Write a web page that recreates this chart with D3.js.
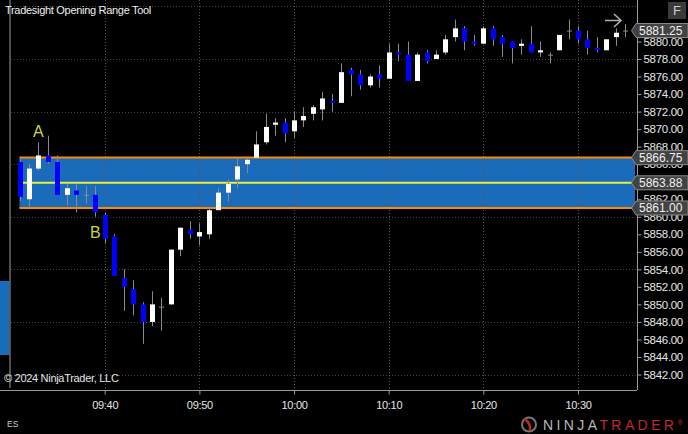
<!DOCTYPE html>
<html><head><meta charset="utf-8">
<script src="https://cdn.jsdelivr.net/npm/d3@7/dist/d3.min.js"></script>
<style>
html,body{margin:0;padding:0;background:#000;overflow:hidden;}
svg{display:block;}
text{font-family:"Liberation Sans",Arial,sans-serif;}
</style></head>
<body><svg id="c" width="688" height="434"></svg>
<script>
const times = ["09:31","09:32","09:33","09:34","09:35","09:36","09:37","09:38","09:39","09:40",
"09:41","09:42","09:43","09:44","09:45","09:46","09:47","09:48","09:49","09:50",
"09:51","09:52","09:53","09:54","09:55","09:56","09:57","09:58","09:59","10:00",
"10:01","10:02","10:03","10:04","10:05","10:06","10:07","10:08","10:09","10:10",
"10:11","10:12","10:13","10:14","10:15","10:16","10:17","10:18","10:19","10:20",
"10:21","10:22","10:23","10:24","10:25","10:26","10:27","10:28","10:29","10:30",
"10:31","10:32","10:33","10:34","10:35"];
const opens = [5866.25,5862.0,5865.5,5867.0,5866.25,5862.5,5863.0,5862.5,5862.5,5860.25,
5857.75,5853.0,5851.75,5850.0,5848.0,5849.75,5850.0,5856.25,5858.5,5857.75,
5858.0,5860.75,5862.75,5864.25,5866.0,5866.75,5868.5,5870.5,5870.75,5869.75,
5871.0,5871.75,5872.25,5873.25,5873.0,5876.75,5876.25,5875.0,5876.25,5875.75,
5878.75,5878.5,5875.5,5878.75,5878.0,5878.75,5880.5,5881.5,5880.0,5879.75,
5881.5,5880.5,5880.0,5879.5,5879.75,5878.75,5878.5,5879.0,5881.25,5881.25,
5880.25,5879.25,5879.0,5880.5,5881.25];
const highs = [5866.75,5866.0,5868.5,5869.25,5867.0,5863.75,5863.75,5863.5,5863.5,5860.5,
5858.0,5854.0,5852.75,5850.25,5851.5,5850.75,5856.25,5858.75,5859.5,5859.25,
5861.0,5863.25,5864.25,5866.75,5866.75,5869.75,5871.75,5871.25,5871.25,5872.0,
5872.5,5872.75,5874.25,5874.0,5877.5,5877.0,5876.75,5876.25,5877.25,5879.75,
5879.75,5880.0,5878.75,5879.0,5879.0,5880.75,5882.5,5881.75,5880.75,5881.75,
5881.75,5880.75,5880.0,5880.25,5881.75,5880.0,5878.75,5880.75,5882.5,5881.75,
5881.25,5880.5,5880.25,5881.5,5882.0];
const lows = [5861.75,5861.0,5865.25,5866.0,5862.5,5861.25,5860.5,5861.5,5860.0,5857.0,
5853.25,5849.25,5848.75,5845.5,5847.5,5847.0,5850.0,5855.5,5857.5,5856.75,
5857.5,5860.75,5861.75,5863.25,5865.0,5866.75,5868.25,5869.25,5868.5,5869.0,
5870.25,5871.0,5871.0,5872.0,5873.0,5873.75,5874.5,5874.75,5874.75,5875.75,
5877.75,5875.5,5875.5,5877.5,5878.0,5878.5,5880.0,5879.0,5879.5,5879.75,
5879.5,5878.25,5877.5,5878.5,5878.75,5878.25,5877.5,5879.0,5880.25,5879.75,
5878.5,5878.75,5879.0,5879.5,5880.5];
const closes = [5862.25,5865.5,5867.0,5866.25,5862.5,5863.25,5862.5,5862.5,5860.5,5857.5,
5853.25,5852.0,5850.0,5848.0,5850.0,5849.75,5856.25,5858.75,5858.0,5858.25,
5860.75,5862.75,5863.75,5865.75,5866.5,5868.25,5870.25,5870.75,5869.5,5871.0,
5871.5,5872.5,5873.5,5873.0,5876.5,5876.25,5875.0,5876.0,5875.75,5878.75,
5878.5,5875.5,5878.5,5877.75,5878.5,5880.25,5881.5,5880.0,5879.75,5881.5,
5880.25,5879.75,5879.25,5879.75,5878.75,5879.0,5878.5,5880.75,5881.25,5880.25,
5879.25,5879.0,5880.25,5881.0,5881.25];
const timeTicks = ["09:40","09:50","10:00","10:10","10:20","10:30"];
const priceTicks = [5842,5844,5846,5848,5850,5852,5854,5856,5858,5860,5862,5864,5866,5868,5870,5872,5874,5876,5878,5880];
const gridPrices = [5842,5848,5854,5860,5866,5872,5878,5884];
const rangeHigh = 5866.75, rangeLow = 5861.00, rangeMid = 5863.875, lastPrice = 5881.25;
const flags = [lastPrice, rangeHigh, rangeMid, rangeLow];
const markers = [{t:"09:33", label:"A", p:5869.75},{t:"09:39", label:"B", p:5858.25}];

const parse = d3.timeParse("%H:%M");
const svg = d3.select("#c");
const x = d3.scaleTime().domain([parse("09:30"), parse("10:36")]).range([10.04, 634.8]);
const y = d3.scaleLinear().domain([5842, 5880]).range([374.5, 41.5]);
const plotR = 637, plotB = 390;

// left blue strip
svg.append("rect").attr("x",0).attr("y",281).attr("width",9.5).attr("height",74).attr("fill","#1b6bbb");

// range box
const bx0 = x(parse(times[0]));
svg.append("rect").attr("x",bx0).attr("y",y(rangeHigh)).attr("width",635-bx0)
  .attr("height",y(rangeLow)-y(rangeHigh)).attr("fill","#1b6bbb");

// grid
const g = svg.append("g").attr("stroke","#555").attr("stroke-dasharray","1,2").attr("stroke-width",1);
gridPrices.forEach(p=>{ g.append("line").attr("x1",11).attr("x2",plotR).attr("y1",Math.round(y(p))+0.5).attr("y2",Math.round(y(p))+0.5).attr("opacity",0.8);});
timeTicks.forEach(t=>{ const xx=Math.round(x(parse(t)))+0.5; g.append("line").attr("x1",xx).attr("x2",xx).attr("y1",0).attr("y2",plotB);});

// range lines
svg.append("line").attr("x1",bx0).attr("x2",632).attr("y1",y(rangeHigh)).attr("y2",y(rangeHigh)).attr("stroke","#ff8a00").attr("stroke-width",2);
svg.append("line").attr("x1",bx0).attr("x2",632).attr("y1",y(rangeLow)).attr("y2",y(rangeLow)).attr("stroke","#ff8a00").attr("stroke-width",2);
svg.append("line").attr("x1",bx0).attr("x2",632).attr("y1",y(rangeMid)).attr("y2",y(rangeMid)).attr("stroke","#e8ef3c").attr("stroke-width",2);

// candles
const data = times.map((t,i)=>({t:parse(t),o:opens[i],h:highs[i],l:lows[i],c:closes[i]}));
const bw = 5;
const cg = svg.append("g");
data.forEach(d=>{
  const cx = Math.round(x(d.t))+0.5;
  cg.append("line").attr("x1",cx).attr("x2",cx).attr("y1",y(d.h)).attr("y2",y(d.l)).attr("stroke","#8a8a8a").attr("stroke-width",1);
  const top = y(Math.max(d.o,d.c)), bot = y(Math.min(d.o,d.c));
  const col = d.c>d.o ? "#ffffff" : (d.c<d.o ? "#0000ff" : "#8a8a8a");
  cg.append("rect").attr("x",cx-bw/2).attr("y",top).attr("width",bw).attr("height",Math.max(1,bot-top)).attr("fill",col);
});

// markers
markers.forEach(m=>{
  svg.append("text").attr("x",x(parse(m.t))).attr("y",y(m.p)).attr("text-anchor","middle").attr("dy","0.35em")
    .attr("fill","#cbd63e").attr("font-size",16).text(m.label);
});

// axes lines
svg.append("line").attr("x1",10).attr("x2",10).attr("y1",0).attr("y2",388).attr("stroke","#6a6a6a").attr("stroke-width",1.5);
svg.append("line").attr("x1",0).attr("x2",plotR).attr("y1",plotB+0.5).attr("y2",plotB+0.5).attr("stroke","#9a9a9a");
svg.append("line").attr("x1",plotR+0.5).attr("x2",plotR+0.5).attr("y1",0).attr("y2",plotB).attr("stroke","#9a9a9a");

// bottom axis
const xa = svg.append("g").attr("transform",`translate(0,${plotB+0.5})`)
  .call(d3.axisBottom(x).tickValues(timeTicks.map(parse)).tickFormat(d3.timeFormat("%H:%M")).tickSize(4).tickPadding(7));
xa.select(".domain").remove();
xa.selectAll("line").attr("stroke","#9a9a9a");
xa.selectAll("text").attr("fill","#e6e6e6").attr("font-size",11).attr("letter-spacing",-0.3).attr("font-family","Liberation Sans, Arial, sans-serif");

// right axis
const ya = svg.append("g").attr("transform",`translate(${plotR+0.5},0)`)
  .call(d3.axisRight(y).tickValues(priceTicks).tickFormat(d3.format(".2f")).tickSize(4).tickPadding(2));
ya.select(".domain").remove();
ya.selectAll("line").attr("stroke","#9a9a9a");
ya.selectAll("text").attr("fill","#e6e6e6").attr("font-size",11.5).attr("letter-spacing",-0.3).attr("font-family","Liberation Sans, Arial, sans-serif");
// labels fully hidden behind a price flag are not drawn (as in the reference)
ya.selectAll(".tick").filter(d=>flags.some(f=>Math.abs(y(f)-y(d))<3)).select("text").remove();

// flags
flags.forEach(p=>{
  const yy = y(p);
  svg.append("path").attr("d",`M631.5,${yy} L636,${yy-7} L688,${yy-7} L688,${yy+7} L636,${yy+7} Z`)
    .attr("fill","#424242").attr("stroke","#8a8a8a").attr("stroke-width",1);
  svg.append("text").attr("x",639).attr("y",yy).attr("dy","0.36em").attr("fill","#f0f0f0").attr("font-size",12)
    .attr("letter-spacing",0).text(d3.format(".2f")(p));
});

// arrow icon
svg.append("path").attr("d","M605,20.5 L621,20.5 M614,14 L621,20.5 L614,27").attr("fill","none").attr("stroke","#b0b0b0").attr("stroke-width",1.6);
// F button
svg.append("rect").attr("x",668).attr("y",2).attr("width",18).attr("height",17).attr("fill","#3a3a3a");
svg.append("text").attr("x",677).attr("y",10.5).attr("dy","0.36em").attr("text-anchor","middle").attr("fill","#d0d0d0").attr("font-size",13).text("F");

// texts
svg.append("text").attr("x",5).attr("y",14).attr("fill","#f0f0f0").attr("font-size",11).attr("letter-spacing",-0.3).text("Tradesight Opening Range Tool");
svg.append("text").attr("x",4).attr("y",382).attr("fill","#e6e6e6").attr("font-size",11).attr("letter-spacing",-0.3).text("© 2024 NinjaTrader, LLC");
svg.append("text").attr("x",7).attr("y",427).attr("fill","#cccccc").attr("font-size",8.5).text("ES");

// logo
const lg = svg.append("g");
lg.append("circle").attr("cx",529).attr("cy",424.5).attr("r",7).attr("fill","none").attr("stroke","#777").attr("stroke-width",2);
lg.append("path").attr("d","M524,419 Q531,422 530,431").attr("fill","none").attr("stroke","#b3262b").attr("stroke-width",2.5);
const lt = lg.append("text").attr("x",543).attr("y",430).attr("font-size",14).attr("letter-spacing",3.4);
lt.append("tspan").attr("fill","#b8b8b8").text("NINJA");
lt.append("tspan").attr("fill","#c0282d").text("TRADER");
lt.append("tspan").attr("fill","#c0282d").attr("font-size",7).attr("dy",-5).text("®");
</script></body></html>
